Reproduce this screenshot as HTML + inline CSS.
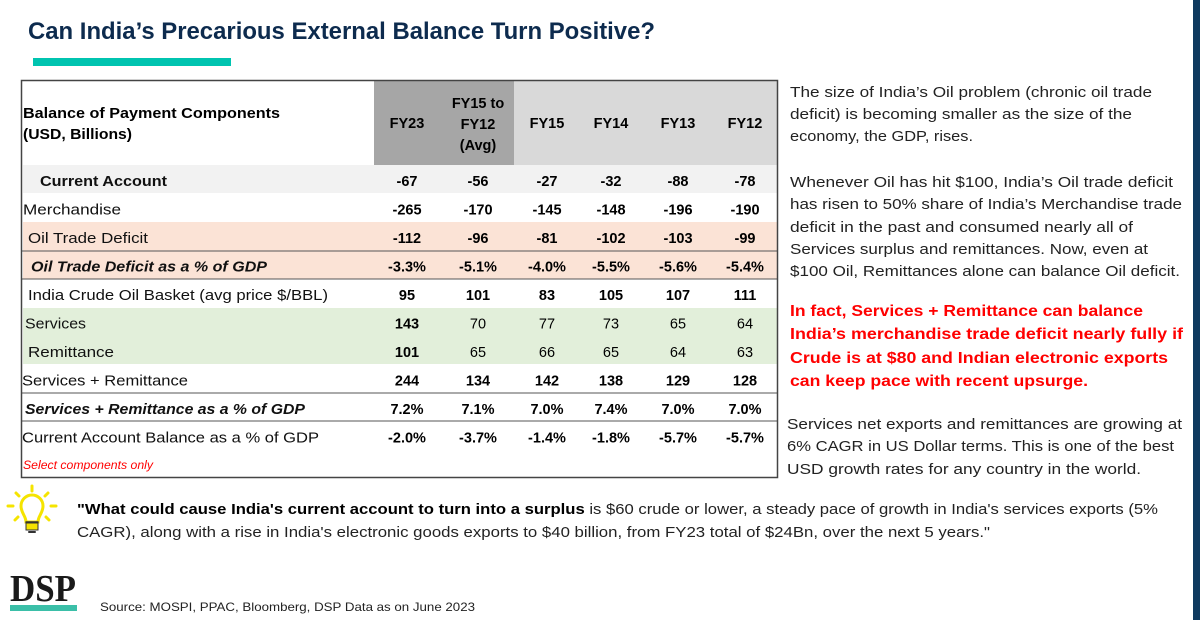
<!DOCTYPE html>
<html><head><meta charset="utf-8"><style>
html,body{margin:0;padding:0;background:#fff;}
svg{display:block;font-family:"Liberation Sans",sans-serif;}
</style></head><body>
<svg id="s" width="1200" height="620" viewBox="0 0 1200 620">
<rect x="1193" y="0" width="7" height="620" fill="#0e3a5f"/>
<text x="28" y="39" font-size="24" font-weight="bold" fill="#0d2b4e" textLength="627" lengthAdjust="spacingAndGlyphs">Can India’s Precarious External Balance Turn Positive?</text>
<rect x="33" y="58" width="198" height="8" fill="#00c4b0"/>

<g>
<rect x="374" y="81" width="140" height="84" fill="#a6a6a6"/>
<rect x="514" y="81" width="263" height="84" fill="#d9d9d9"/>
<rect x="23" y="165" width="754" height="28" fill="#f2f2f2"/>
<rect x="23" y="222" width="754" height="57" fill="#fbe3d6"/>
<rect x="23" y="308" width="754" height="56" fill="#e2efda"/>
<line x1="22" y1="251" x2="777" y2="251" stroke="#555"/>
<line x1="22" y1="279" x2="777" y2="279" stroke="#555"/>
<line x1="22" y1="393" x2="777" y2="393" stroke="#555"/>
<line x1="22" y1="421" x2="777" y2="421" stroke="#555"/>
<rect x="21.5" y="80.5" width="756" height="397" fill="none" stroke="#444" stroke-width="1.5"/>
<g font-size="14.5" font-weight="bold" fill="#000">
<text x="23" y="118" textLength="257" lengthAdjust="spacingAndGlyphs">Balance of Payment Components</text>
<text x="23" y="139" textLength="109" lengthAdjust="spacingAndGlyphs">(USD, Billions)</text>
</g>
<g id="hdr" font-size="14.5" font-weight="bold" fill="#000" text-anchor="middle"></g>
<g id="rows"></g>
<text x="23" y="469" font-size="11.5" font-style="italic" fill="#ff0000" textLength="130" lengthAdjust="spacingAndGlyphs">Select components only</text>
</g>

<g font-size="15" fill="#222">
<text x="790" y="97" textLength="362" lengthAdjust="spacingAndGlyphs">The size of India’s Oil problem (chronic oil trade</text>
<text x="790" y="119" textLength="342" lengthAdjust="spacingAndGlyphs">deficit) is becoming smaller as the size of the</text>
<text x="790" y="141" textLength="183" lengthAdjust="spacingAndGlyphs">economy, the GDP, rises.</text>
<text x="790" y="187" textLength="383" lengthAdjust="spacingAndGlyphs">Whenever Oil has hit $100, India’s Oil trade deficit</text>
<text x="790" y="209" textLength="392" lengthAdjust="spacingAndGlyphs">has risen to 50% share of India’s Merchandise trade</text>
<text x="790" y="232" textLength="343" lengthAdjust="spacingAndGlyphs">deficit in the past and consumed nearly all of</text>
<text x="790" y="254" textLength="358" lengthAdjust="spacingAndGlyphs">Services surplus and remittances. Now, even at</text>
<text x="790" y="276" textLength="390" lengthAdjust="spacingAndGlyphs">$100 Oil, Remittances alone can balance Oil deficit.</text>
</g>
<g font-size="15.5" font-weight="bold" fill="#ff0000">
<text x="790" y="316" textLength="353" lengthAdjust="spacingAndGlyphs">In fact, Services + Remittance can balance</text>
<text x="790" y="339" textLength="393" lengthAdjust="spacingAndGlyphs">India’s merchandise trade deficit nearly fully if</text>
<text x="790" y="363" textLength="378" lengthAdjust="spacingAndGlyphs">Crude is at $80 and Indian electronic exports</text>
<text x="790" y="386" textLength="298" lengthAdjust="spacingAndGlyphs">can keep pace with recent upsurge.</text>
</g>
<g font-size="15" fill="#222">
<text x="787" y="429" textLength="395" lengthAdjust="spacingAndGlyphs">Services net exports and remittances are growing at</text>
<text x="787" y="451" textLength="387" lengthAdjust="spacingAndGlyphs">6% CAGR in US Dollar terms. This is one of the best</text>
<text x="787" y="474" textLength="354" lengthAdjust="spacingAndGlyphs">USD growth rates for any country in the world.</text>
</g>

<g stroke-linecap="round">
<path d="M26 522 C26 516 21 513 21 506 A11 11 0 1 1 43 506 C43 513 38 516 38 522 Z" fill="#fff" stroke="#f5e400" stroke-width="3"/>
<path d="M26 522 L38 522" stroke="#333" stroke-width="1.5"/>
<rect x="26" y="523" width="12" height="7" fill="#f5e400" stroke="#333" stroke-width="1"/>
<path d="M29 532 L35 532" stroke="#333" stroke-width="2"/>
<g stroke="#f5e400" stroke-width="3" >
<line x1="32" y1="486" x2="32" y2="491"/>
<line x1="16" y1="493" x2="19" y2="496"/>
<line x1="48" y1="493" x2="45" y2="496"/>
<line x1="8" y1="506" x2="13" y2="506"/>
<line x1="51" y1="506" x2="56" y2="506"/>
<line x1="15" y1="520" x2="18" y2="517"/>
<line x1="49" y1="520" x2="46" y2="517"/>
</g>
</g>
<g font-size="15" fill="#222">
<text x="77" y="514" textLength="1081" lengthAdjust="spacingAndGlyphs"><tspan font-weight="bold" fill="#000">"What could cause India's current account to turn into a surplus</tspan> is $60 crude or lower, a steady pace of growth in India's services exports (5%</text>
<text x="77" y="537" textLength="913" lengthAdjust="spacingAndGlyphs">CAGR), along with a rise in India's electronic goods exports to $40 billion, from FY23 total of $24Bn, over the next 5 years."</text>
</g>
<text x="10" y="601" font-family="Liberation Serif,serif" font-size="38" font-weight="bold" fill="#1a1a1a" textLength="66" lengthAdjust="spacingAndGlyphs">DSP</text>
<rect x="10" y="605" width="67" height="6" fill="#3bbfa8"/>
<text x="100" y="611" font-size="12" fill="#222" textLength="375" lengthAdjust="spacingAndGlyphs">Source: MOSPI, PPAC, Bloomberg, DSP Data as on June 2023</text>
</svg>
<script>
const columns = ["FY23","FY15 to FY12 (Avg)","FY15","FY14","FY13","FY12"];
const rowLabels = ["Current Account","Merchandise","Oil Trade Deficit","Oil Trade Deficit as a % of GDP","India Crude Oil Basket (avg price $/BBL)","Services","Remittance","Services + Remittance","Services + Remittance as a % of GDP","Current Account Balance as a % of GDP"];
const currentAccount = ["-67","-56","-27","-32","-88","-78"];
const merchandise = ["-265","-170","-145","-148","-196","-190"];
const oilDeficit = ["-112","-96","-81","-102","-103","-99"];
const oilPctGdp = ["-3.3%","-5.1%","-4.0%","-5.5%","-5.6%","-5.4%"];
const crudePrice = ["95","101","83","105","107","111"];
const services = ["143","70","77","73","65","64"];
const remittance = ["101","65","66","65","64","63"];
const servRemit = ["244","134","142","138","129","128"];
const servRemitPct = ["7.2%","7.1%","7.0%","7.4%","7.0%","7.0%"];
const cabPct = ["-2.0%","-3.7%","-1.4%","-1.8%","-5.7%","-5.7%"];
const series = [currentAccount,merchandise,oilDeficit,oilPctGdp,crudePrice,services,remittance,servRemit,servRemitPct,cabPct];

const NS="http://www.w3.org/2000/svg";
const colX=[407,478,547,611,678,745];
const labelX=[40,23,28,31,28,25,28,22,25,22];
const labelW=[127,98,120,236,300,61,86,166,280,297];
const labelBold=[1,0,0,1,0,0,0,0,1,0];
const labelItal=[0,0,0,1,0,0,0,0,1,0];
const boldAllCols=[1,1,1,1,1,0,0,1,1,1];
const rowY=y=>186+y*28.5;
const hdr=document.getElementById('hdr');
columns.forEach((c,i)=>{
  const lines=i===1?["FY15 to","FY12","(Avg)"]:[c];
  lines.forEach((l,j)=>{
    const t=document.createElementNS(NS,'text');
    
    
    t.setAttribute('x',colX[i]);
    t.setAttribute('y',lines.length===1?128:108+j*21);
    t.textContent=l;hdr.appendChild(t);
  });
});
const rows=document.getElementById('rows');
rowLabels.forEach((lab,r)=>{
  const g=document.createElementNS(NS,'g');
  
  
  const t=document.createElementNS(NS,'text');
  
  
  t.setAttribute('x',labelX[r]);t.setAttribute('y',rowY(r));
  t.setAttribute('font-size','14.5');
  if(labelBold[r])t.setAttribute('font-weight','bold');
  if(labelItal[r])t.setAttribute('font-style','italic');
  t.setAttribute('textLength',labelW[r]);t.setAttribute('lengthAdjust','spacingAndGlyphs');
  t.setAttribute('fill','#111');
  t.textContent=lab;g.appendChild(t);
  series[r].forEach((v,i)=>{
    const c=document.createElementNS(NS,'text');
    
    
    c.setAttribute('x',colX[i]);c.setAttribute('y',rowY(r));
    c.setAttribute('text-anchor','middle');c.setAttribute('font-size','14.5');
    if(boldAllCols[r]||i===0)c.setAttribute('font-weight','bold');
    c.setAttribute('fill','#000');
    c.textContent=v;g.appendChild(c);
  });
  rows.appendChild(g);
});
</script>
</body></html>
